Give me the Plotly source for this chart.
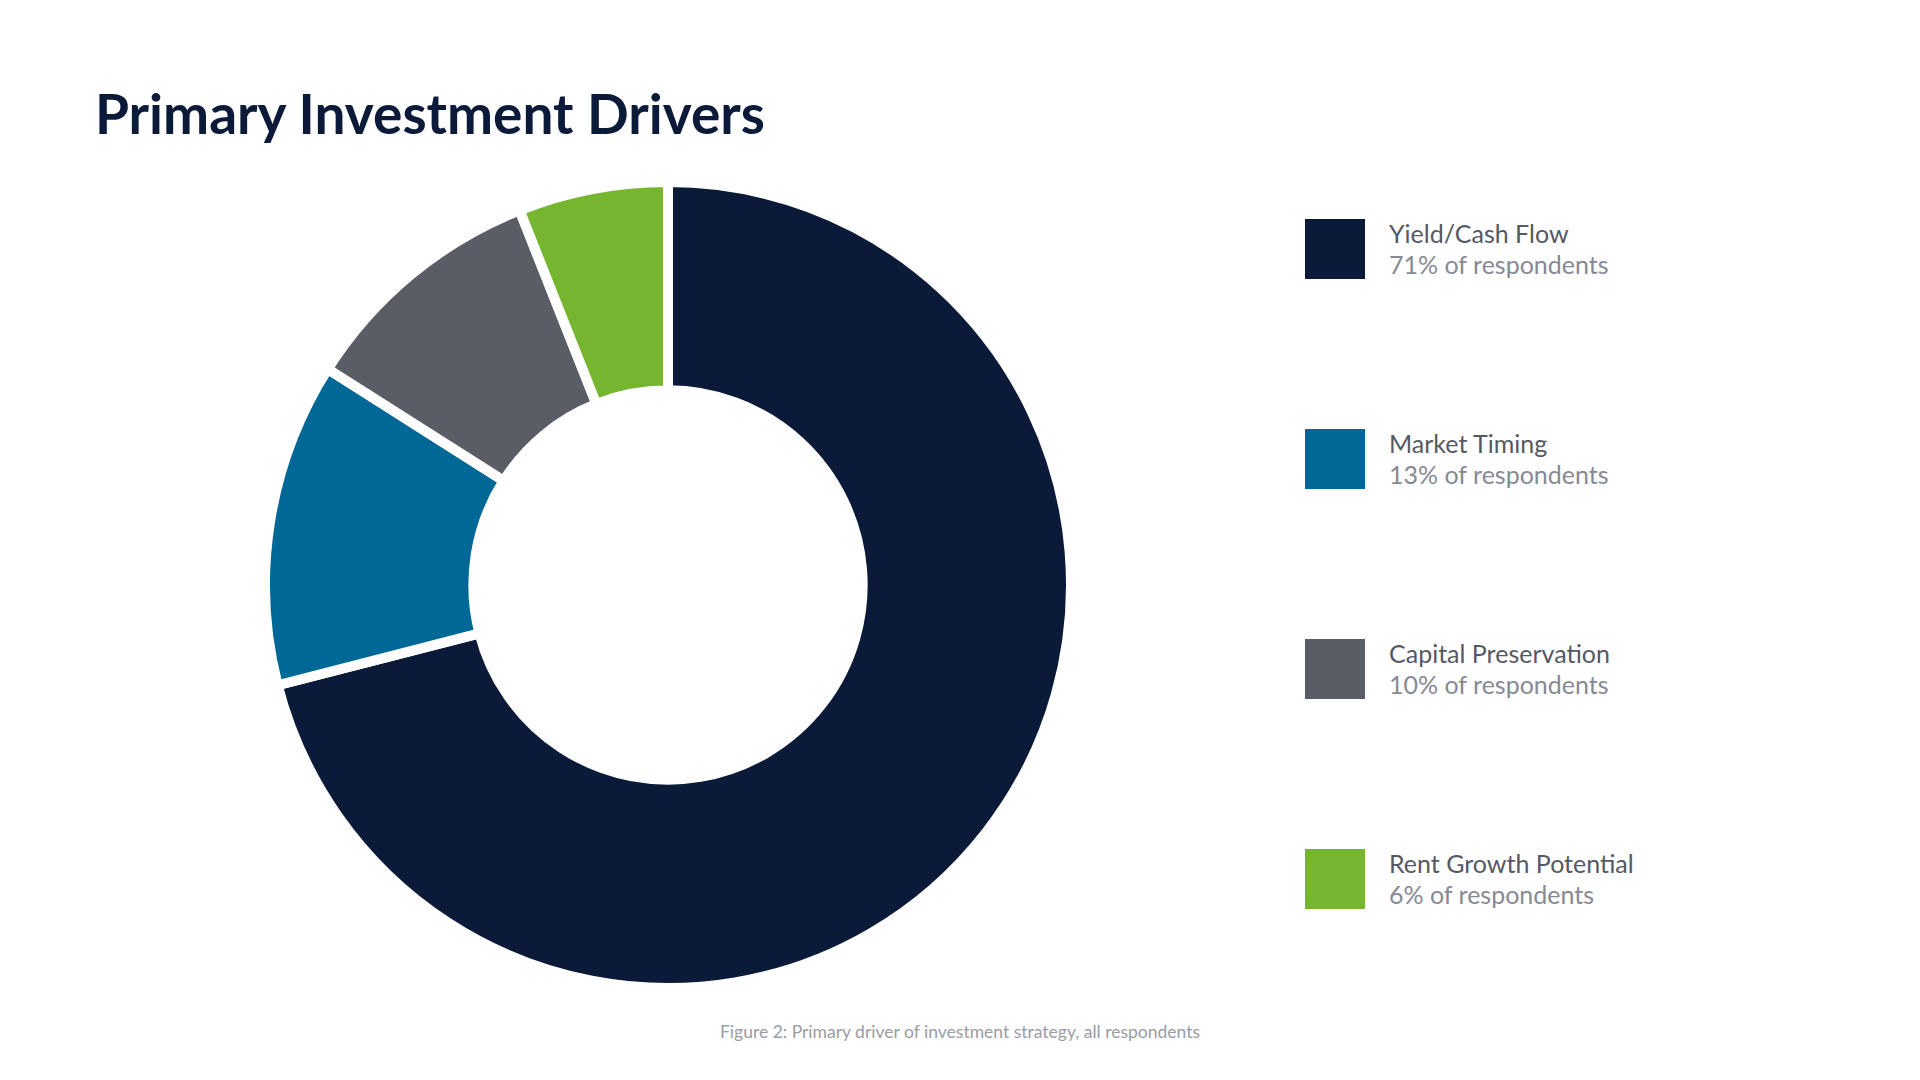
import plotly.graph_objects as go

categories = ["Yield/Cash Flow", "Market Timing", "Capital Preservation", "Rent Growth Potential"]
shares = [71, 13, 10, 6]
colors = ["#0a1a38", "#006896", "#5a5d66", "#76b52f"]

W, H = 1920, 1080
FONT = "Lato"
OFF = 8  # page offset of the plot in the browser

fig = go.Figure()

# donut
fig.add_trace(go.Pie(
    labels=categories,
    values=shares,
    sort=False,
    direction="clockwise",
    rotation=0,
    hole=0.483,
    textinfo="none",
    hoverinfo="label+percent",
    marker=dict(colors=colors, line=dict(color="white", width=10)),
    domain=dict(x=[(265 - OFF) / W, (1071 - OFF) / W],
                y=[1 - (988 - OFF) / H, 1 - (182 - OFF) / H]),
    showlegend=False,
))

# custom legend: squares on a pixel-scaled hidden axis
leg_x = 1335 - OFF
leg_y0, leg_step = 249 - OFF, 210
fig.add_trace(go.Scatter(
    x=[leg_x] * len(categories),
    y=[leg_y0 + leg_step * i for i in range(len(categories))],
    mode="markers",
    marker=dict(symbol="square", size=60, color=colors, line=dict(width=0)),
    hoverinfo="skip",
    showlegend=False,
))

annotations = []
for i, (name, pct) in enumerate(zip(categories, shares)):
    y = leg_y0 + leg_step * i
    annotations.append(dict(
        x=1387 - OFF, y=y - 16, xref="x", yref="y", text=name, showarrow=False,
        xanchor="left", yanchor="middle",
        font=dict(family=FONT, size=25, color="#555963"),
    ))
    annotations.append(dict(
        x=1387 - OFF, y=y + 15, xref="x", yref="y", text=f"{pct}% of respondents", showarrow=False,
        xanchor="left", yanchor="middle",
        font=dict(family=FONT, size=25, color="#878995"),
    ))

annotations.append(dict(
    x=960 - OFF, y=1031 - OFF, xref="x", yref="y", showarrow=False,
    text="Figure 2: Primary driver of investment strategy, all respondents",
    xanchor="center", yanchor="middle",
    font=dict(family=FONT, size=17.5, color="#9a9ca6"),
))

fig.update_layout(
    width=W, height=H,
    margin=dict(l=0, r=0, t=0, b=0),
    paper_bgcolor="white", plot_bgcolor="white",
    title=dict(
        text="<b>Primary Investment Drivers</b>",
        x=(95 - OFF) / W, xanchor="left", y=1 - (115 - OFF) / H, yanchor="middle",
        font=dict(family=FONT, size=55, color="#0a1a38"),
    ),
    xaxis=dict(range=[0, W], visible=False, fixedrange=True),
    yaxis=dict(range=[H, 0], visible=False, fixedrange=True),
    annotations=annotations,
)

fig.write_html("out.html")
